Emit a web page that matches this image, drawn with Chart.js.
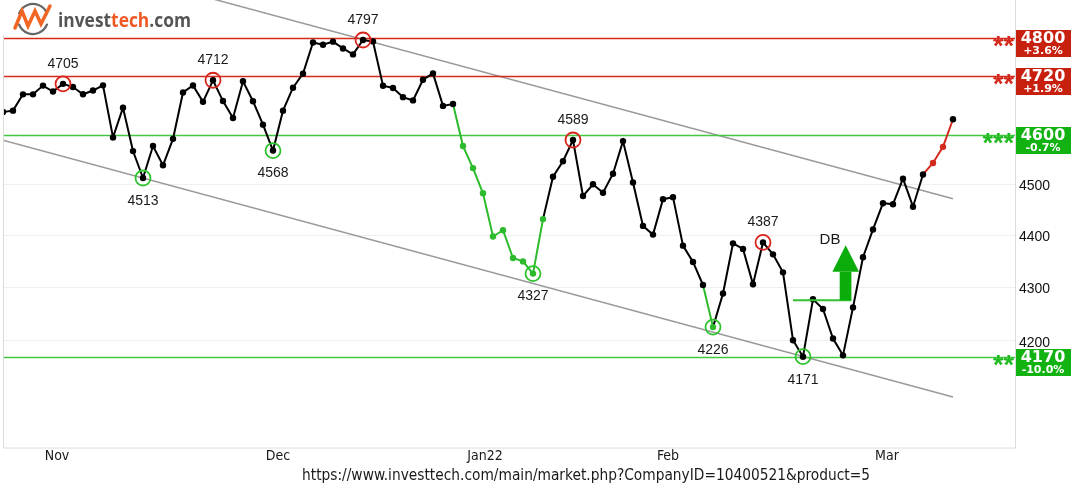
<!DOCTYPE html>
<html>
<head>
<meta charset="utf-8">
<script src="https://cdn.jsdelivr.net/npm/chart.js@4.4.1/dist/chart.umd.min.js"></script>
<style>
  html, body { margin:0; padding:0; background:#fff; }
  #wrap { position:relative; width:1076px; height:496px; }
</style>
</head>
<body>
<div id="wrap"><canvas id="c" width="1076" height="496"></canvas></div>
<script>
'use strict';
// ── daily closes, one per trading day (10 Nov 2021 → 29 Mar 2022)
const closes = [
  4646.71, 4649.27, 4682.85, 4682.80, 4700.90, 4688.67, 4704.54, 4697.96, 4682.94, 4690.70, 4701.46, 4594.62, 4655.27, 4567.00,
  4513.04, 4577.10, 4538.43, 4591.67, 4686.75, 4701.21, 4667.45, 4712.02, 4668.97, 4634.09, 4709.85, 4668.67, 4620.64, 4568.02,
  4649.23, 4696.56, 4725.79, 4791.19, 4786.35, 4793.06, 4778.73, 4766.18,
  4796.56, 4793.54, 4700.58, 4696.05, 4677.03, 4670.29, 4713.07, 4726.35, 4659.03, 4662.85, 4577.11, 4532.76, 4482.73, 4397.94,
  4410.13, 4356.45, 4349.93, 4326.51, 4431.85, 4515.55,
  4546.54, 4589.38, 4477.44, 4500.53, 4483.87, 4521.54, 4587.18, 4504.08, 4418.64, 4401.67, 4471.07, 4475.01, 4380.26, 4348.87,
  4304.76, 4225.50, 4288.70, 4384.65, 4373.94,
  4306.26, 4386.54, 4363.49, 4328.87, 4201.09, 4170.70, 4277.88, 4259.52, 4204.31, 4173.11, 4262.45, 4357.86, 4411.67, 4463.12,
  4461.18, 4511.61, 4456.24, 4520.16, 4543.06, 4575.52, 4631.60
];

// x axis: month names (label spots) and month starts (grid lines), in trading-day index
const monthNames  = ['Nov', 'Dec', 'Jan22', 'Feb', 'Mar'];
const monthLabelAt = [5.4, 27.5, 48.2, 66.5, 88.4];
const monthStarts = [14, 36, 56, 75];

// y axis (log)
const yTicks    = [4200, 4300, 4400, 4500, 4600, 4700, 4800];
const yLabelled = [4200, 4300, 4400, 4500];

// tops / bottoms marked with circles
const tops    = [6, 21, 36, 57, 76];
const bottoms = [14, 27, 53, 71, 80];

// coloured stretches of the price line [fromIdx, toIdx]
const greenRuns = [[45, 54], [70, 71]];
const redRuns   = [[92, 95]];

// support / resistance levels
const levels     = [4800, 4720, 4600, 4170];
const levelKind  = ['res', 'res', 'sup', 'sup'];
const levelStars = ['**', '**', '***', '**'];
const levelPct   = ['+3.6%', '+1.9%', '-0.7%', '-10.0%'];

// trend channel [idx, value]
const channelUpper = [[20, 4890], [95, 4472]];
const channelLower = [[0, 4589], [95, 4097]];

// double bottom: neckline, arrow
const dbNeck  = [79, 84.84, 4276];          // from, to, value
const dbShaft = [83.67, 84.84, 4276, 4330];  // x0, x1, v0, v1
const dbHead  = [82.94, 85.6, 4330, 84.27, 4381];
const dbText  = [82.7, 4391];

const GREEN = '#2dbb2d';
const RED   = '#d42a1e';

function runColor(i, pts) {
  for (const [a, b] of greenRuns) if (pts ? (i > a && i <= b) : (i >= a && i < b)) return GREEN;
  for (const [a, b] of redRuns)   if (pts ? (i > a && i <= b) : (i >= a && i < b)) return RED;
  return '#000';
}
const pointColors = closes.map((_, i) => i === closes.length - 1 ? '#000' : runColor(i, true));

const overlay = {
  id: 'overlay',
  beforeDatasetsDraw(chart) {
    const { ctx, chartArea: a, scales: { x, y } } = chart;
    ctx.save();
    ctx.beginPath(); ctx.rect(a.left, a.top, a.right - a.left, a.bottom - a.top); ctx.clip();
    // channel
    ctx.strokeStyle = '#9a9a9a'; ctx.lineWidth = 1.5;
    [channelUpper, channelLower].forEach(l => {
      ctx.beginPath();
      ctx.moveTo(x.getPixelForValue(l[0][0]), y.getPixelForValue(l[0][1]));
      ctx.lineTo(x.getPixelForValue(l[1][0]), y.getPixelForValue(l[1][1]));
      ctx.stroke();
    });
    // levels
    levels.forEach((v, i) => {
      const py = Math.round(y.getPixelForValue(v)) + 0.5;
      ctx.strokeStyle = levelKind[i] === 'res' ? RED : '#44c844';
      ctx.lineWidth = 1.3;
      ctx.beginPath(); ctx.moveTo(a.left, py); ctx.lineTo(a.right, py); ctx.stroke();
    });
    ctx.restore();
  },
  afterDatasetsDraw(chart) {
    const { ctx, chartArea: a, scales: { x, y } } = chart;
    ctx.save();
    // circles + numbers
    ctx.font = '14px "Liberation Sans", Arial, sans-serif';
    ctx.textAlign = 'center'; ctx.textBaseline = 'middle';
    const mark = (i, col, dy) => {
      const px = x.getPixelForValue(i), py = y.getPixelForValue(closes[i]);
      ctx.strokeStyle = col; ctx.lineWidth = 1.8;
      ctx.beginPath(); ctx.arc(px, py, 7.5, 0, Math.PI * 2); ctx.stroke();
      ctx.fillStyle = '#1a1a1a';
      ctx.fillText(String(Math.round(closes[i])), px, py + dy);
    };
    tops.forEach(i => mark(i, '#d8231a', -20));
    bottoms.forEach(i => mark(i, '#2ec42e', 23));

    // double bottom
    ctx.strokeStyle = '#33c033'; ctx.lineWidth = 2;
    const ny = y.getPixelForValue(dbNeck[2]);
    ctx.beginPath(); ctx.moveTo(x.getPixelForValue(dbNeck[0]), ny); ctx.lineTo(x.getPixelForValue(dbNeck[1]), ny); ctx.stroke();
    ctx.fillStyle = '#0aad0a';
    const sx0 = x.getPixelForValue(dbShaft[0]), sx1 = x.getPixelForValue(dbShaft[1]);
    const sy0 = y.getPixelForValue(dbShaft[2]), sy1 = y.getPixelForValue(dbShaft[3]);
    ctx.fillRect(sx0, sy1, sx1 - sx0, sy0 - sy1);
    ctx.beginPath();
    ctx.moveTo(x.getPixelForValue(dbHead[0]), y.getPixelForValue(dbHead[2]));
    ctx.lineTo(x.getPixelForValue(dbHead[3]), y.getPixelForValue(dbHead[4]));
    ctx.lineTo(x.getPixelForValue(dbHead[1]), y.getPixelForValue(dbHead[2]));
    ctx.closePath(); ctx.fill();
    ctx.fillStyle = '#1a1a1a'; ctx.font = '15px "Liberation Sans", Arial, sans-serif';
    ctx.fillText('DB', x.getPixelForValue(dbText[0]), y.getPixelForValue(dbText[1]));

    // level stars and boxes
    levels.forEach((v, i) => {
      const py = Math.round(y.getPixelForValue(v));
      const res = levelKind[i] === 'res';
      ctx.fillStyle = res ? RED : '#22bb22';
      ctx.font = 'bold 27px "Liberation Sans", Arial, sans-serif';
      ctx.textAlign = 'right'; ctx.textBaseline = 'alphabetic';
      ctx.fillText(levelStars[i], a.right - 1, py + 17);
      ctx.fillStyle = res ? '#c8200e' : '#12b212';
      ctx.fillRect(a.right + 1, py - 8, 55, 27);
      ctx.fillStyle = '#fff'; ctx.textAlign = 'center'; ctx.textBaseline = 'middle';
      ctx.font = 'bold 16px "DejaVu Sans", Verdana, sans-serif';
      ctx.fillText(String(v), a.right + 28, py + 1);
      ctx.font = 'bold 11px "DejaVu Sans", Verdana, sans-serif';
      ctx.fillText(levelPct[i], a.right + 28, py + 13);
    });

    // frame
    ctx.strokeStyle = '#dcdcdc'; ctx.lineWidth = 1;
    ctx.strokeRect(a.left + 0.5, a.top - 0.5, a.right - a.left, a.bottom - a.top + 0.5);

    // logo
    ctx.fillStyle = '#fff'; ctx.fillRect(0, 0, 214, 35);
    ctx.lineCap = 'round';
    ctx.strokeStyle = '#666'; ctx.lineWidth = 2.2;
    ctx.beginPath(); ctx.arc(33, 19, 15, Math.PI * 1.12, Math.PI * 1.88); ctx.stroke();
    ctx.beginPath(); ctx.arc(33, 19, 15, Math.PI * 0.12, Math.PI * 0.88); ctx.stroke();
    ctx.strokeStyle = '#f26522'; ctx.lineWidth = 3.5; ctx.lineJoin = 'miter';
    ctx.beginPath();
    [[15, 28], [22, 11], [28, 26], [35, 11], [41, 24], [50, 6]].forEach((p, k) => k ? ctx.lineTo(p[0], p[1]) : ctx.moveTo(p[0], p[1]));
    ctx.stroke();
    ctx.font = 'bold 19px "Open Sans", "DejaVu Sans", sans-serif';
    ctx.textAlign = 'left'; ctx.textBaseline = 'alphabetic';
    const parts = [['invest', '#555555'], ['tech', '#ef5a24'], ['.com', '#555555']];
    const full = ctx.measureText(parts.map(p => p[0]).join('')).width;
    ctx.save();
    ctx.translate(58, 27); ctx.scale(133 / full, 1);
    let tx = 0;
    parts.forEach(([t, c]) => { ctx.fillStyle = c; ctx.fillText(t, tx, 0); tx += ctx.measureText(t).width; });
    ctx.restore();

    // source url
    ctx.fillStyle = '#1a1a1a';
    ctx.font = '15px "Liberation Sans Narrow", "DejaVu Sans Condensed", "Liberation Sans", sans-serif';
    ctx.textAlign = 'center'; ctx.textBaseline = 'middle';
    const url = 'https://www.investtech.com/main/market.php?CompanyID=10400521&product=5';
    const w = ctx.measureText(url).width;
    ctx.translate(586, 476); ctx.scale(568 / w, 1);
    ctx.fillText(url, 0, 0);
    ctx.restore();
  }
};

new Chart(document.getElementById('c'), {
  type: 'line',
  data: {
    datasets: [{
      data: closes.map((v, i) => ({ x: i, y: v })),
      borderColor: '#000',
      borderWidth: 2,
      pointRadius: 3.2,
      pointBorderWidth: 0,
      pointBackgroundColor: pointColors,
      tension: 0,
      segment: { borderColor: c => runColor(c.p0DataIndex, false) }
    }]
  },
  options: {
    responsive: false,
    animation: false,
    devicePixelRatio: 1,
    layout: { autoPadding: false, padding: { left: 3, top: 0, right: 0, bottom: 0 } },
    plugins: { legend: { display: false }, tooltip: { enabled: false } },
    scales: {
      x: {
        type: 'linear', min: 0, max: 101.2, bounds: 'data',
        afterBuildTicks: s => {
          s.ticks = monthLabelAt.concat(monthStarts).sort((p, q) => p - q).map(v => ({ value: v }));
        },
        afterFit: s => { s.height = 48; s.paddingLeft = 0; s.paddingRight = 0; },
        grid: {
          drawTicks: false,
          color: c => (c.tick && monthStarts.includes(c.tick.value)) ? '#ececec' : 'rgba(0,0,0,0)'
        },
        border: { display: false },
        ticks: {
          autoSkip: false, maxRotation: 0, padding: 0, color: '#1a1a1a',
          font: { family: '"Liberation Sans Narrow", "DejaVu Sans Condensed", "Liberation Sans", sans-serif', size: 14 },
          callback: v => { const k = monthLabelAt.indexOf(v); return k >= 0 ? monthNames[k] : null; }
        }
      },
      y: {
        type: 'logarithmic', position: 'right', min: 4005.9, max: 4882, bounds: 'data',
        afterBuildTicks: s => { s.ticks = yTicks.map(v => ({ value: v })); },
        afterFit: s => { s.width = 61; s.paddingTop = 0; s.paddingBottom = 0; },
        grid: { drawTicks: false, color: '#efefef' },
        border: { display: false },
        ticks: {
          autoSkip: false, padding: 4, labelOffset: 2, color: '#111',
          font: { family: '"Liberation Sans", Arial, sans-serif', size: 14 },
          callback: v => yLabelled.includes(v) ? String(v) : null
        }
      }
    }
  },
  plugins: [overlay]
});
</script>
</body>
</html>
